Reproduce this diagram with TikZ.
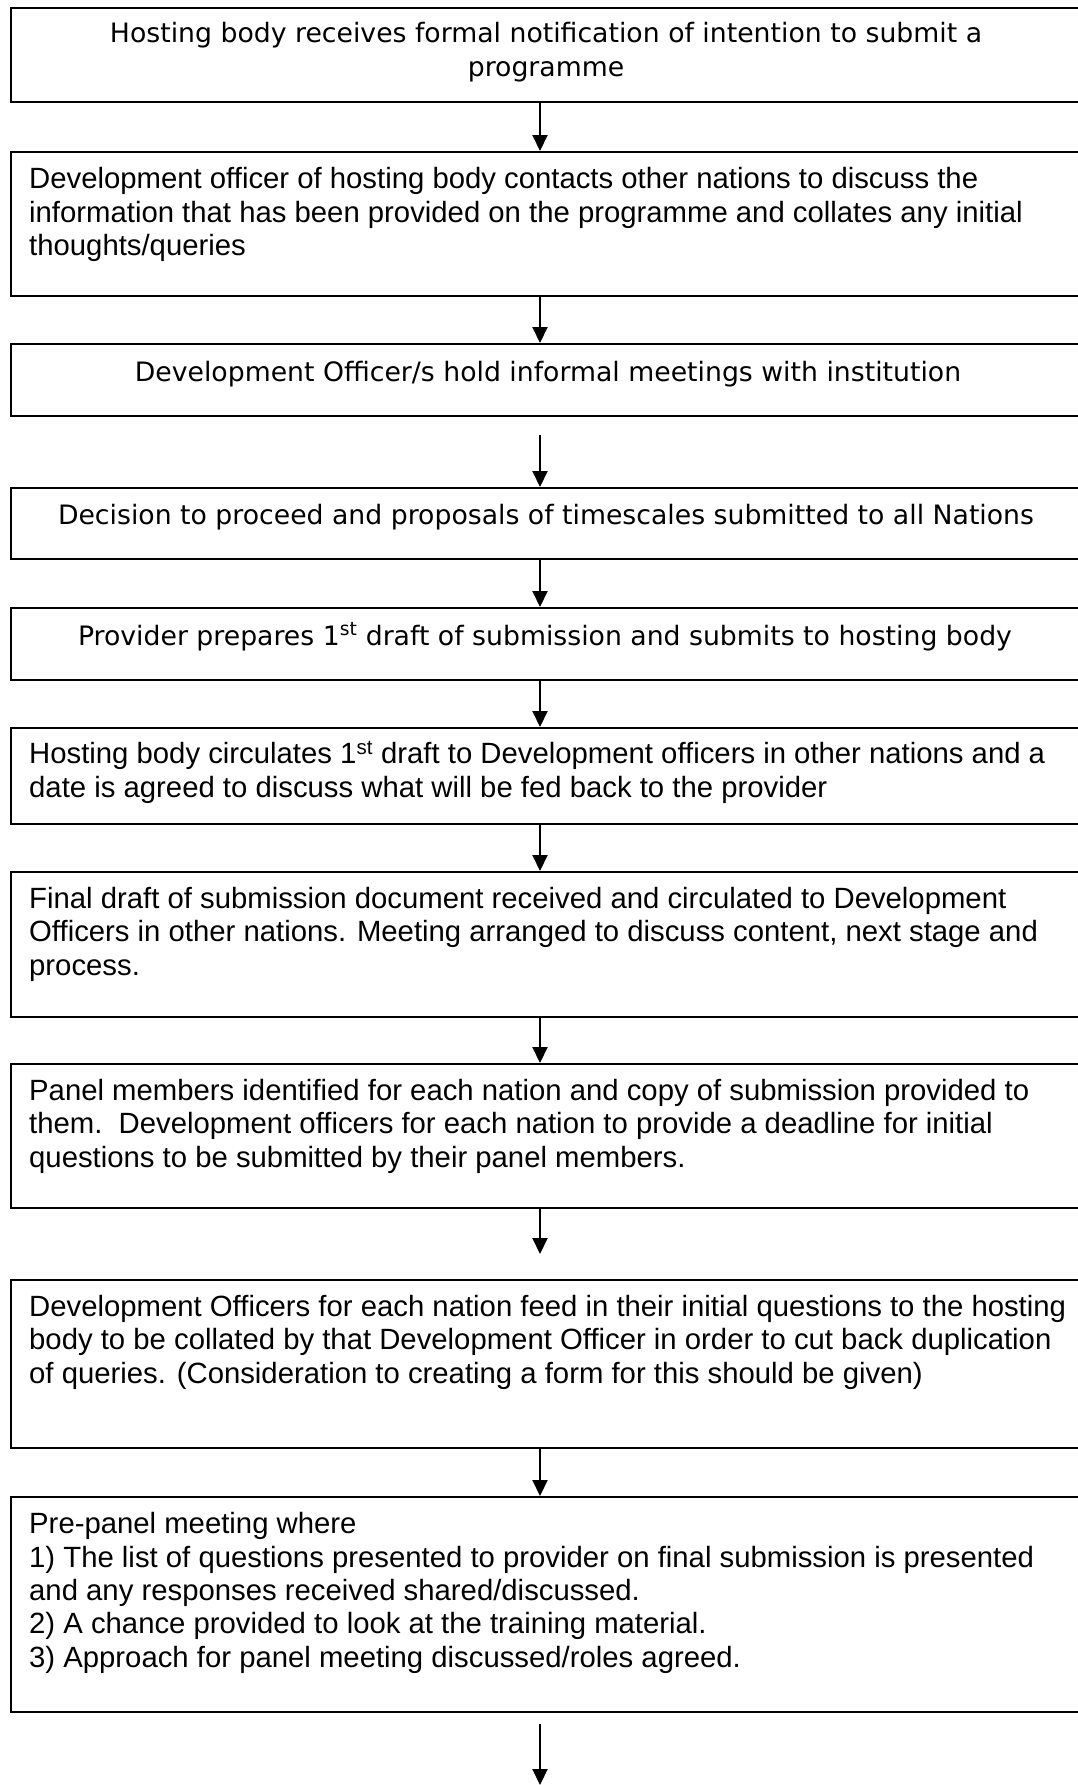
\documentclass[tikz,border=0pt]{standalone}
\usepackage{fontspec}
\setmainfont{Liberation Sans}
\newfontfamily\verd{DejaVu Sans}
\usetikzlibrary{arrows.meta}
\begin{document}
\begin{tikzpicture}[x=1pt,y=-1pt,
  box/.style={draw, line width=2pt, minimum width=1100pt, inner sep=0pt, anchor=north west},
  vtxt/.style={font=\verd\fontsize{26.7}{34}\selectfont, align=center, inner sep=0pt, anchor=base},
  atxt/.style={font=\fontsize{29.3}{33.3}\selectfont, align=left, inner sep=0pt, anchor=base west},
  arr/.style={line width=2pt, -{Triangle[length=16pt,width=15pt]}}]
\clip (0,0) rectangle (1078,1785);
\fill[white] (0,0) rectangle (1078,1785);
% boxes
\node[box, minimum height=94pt]  (b1)  at (10,7) {};
\node[box, minimum height=144pt] (b2)  at (10,151) {};
\node[box, minimum height=72pt]  (b3)  at (10,343) {};
\node[box, minimum height=71pt]  (b4)  at (10,487) {};
\node[box, minimum height=72pt]  (b5)  at (10,607) {};
\node[box, minimum height=96pt]  (b6)  at (10,727) {};
\node[box, minimum height=145pt] (b7)  at (10,871) {};
\node[box, minimum height=144pt] (b8)  at (10,1063) {};
\node[box, minimum height=168pt] (b9)  at (10,1279) {};
\node[box, minimum height=215pt] (b10) at (10,1496) {};
% texts (anchored at the baseline of their last line)
\node[vtxt] (t1) at (546,77) {Hosting body receives formal notification of intention to submit a\\programme};
\node[atxt] (t2) at (29,255.5) {Development officer of hosting body contacts other nations to discuss the\\information that has been provided on the programme and collates any initial\\thoughts/queries};
\node[vtxt] (t3) at (548,381) {Development Officer/s hold informal meetings with institution};
\node[vtxt] (t4) at (546,524) {Decision to proceed and proposals of timescales submitted to all Nations};
\node[vtxt] (t5) at (545,645) {Provider prepares 1\textsuperscript{st} draft of submission and submits to hosting body};
\node[atxt] (t6) at (29,797) {Hosting body circulates 1\textsuperscript{st} draft to Development officers in other nations and a\\date is agreed to discuss what will be fed back to the provider};
\node[atxt] (t7) at (29,975) {Final draft of submission document received and circulated to Development\\Officers in other nations. Meeting arranged to discuss content, next stage and\\process.};
\node[atxt] (t8) at (29,1167) {Panel members identified for each nation and copy of submission provided to\\them.\ \ Development officers for each nation to provide a deadline for initial\\questions to be submitted by their panel members.};
\node[atxt] (t9) at (29,1383) {Development Officers for each nation feed in their initial questions to the hosting\\body to be collated by that Development Officer in order to cut back duplication\\of queries. (Consideration to creating a form for this should be given)};
\node[atxt] (t10) at (29,1667) {Pre-panel meeting where\\1) The list of questions presented to provider on final submission is presented\\and any responses received shared/discussed.\\2) A chance provided to look at the training material.\\3) Approach for panel meeting discussed/roles agreed.};
% arrows
\coordinate (ax) at (540,0);
\coordinate (end) at (540,1785);
\draw[arr] (b1.south -| ax) -- (b2.north -| ax);
\draw[arr] (b2.south -| ax) -- (b3.north -| ax);
\draw[arr, shorten <=18pt] (b3.south -| ax) -- (b4.north -| ax);
\draw[arr] (b4.south -| ax) -- (b5.north -| ax);
\draw[arr] (b5.south -| ax) -- (b6.north -| ax);
\draw[arr] (b6.south -| ax) -- (b7.north -| ax);
\draw[arr] (b7.south -| ax) -- (b8.north -| ax);
\draw[arr, shorten >=25pt] (b8.south -| ax) -- (b9.north -| ax);
\draw[arr] (b9.south -| ax) -- (b10.north -| ax);
\draw[arr, shorten <=11pt] (b10.south -| ax) -- (end);
\end{tikzpicture}
\end{document}
